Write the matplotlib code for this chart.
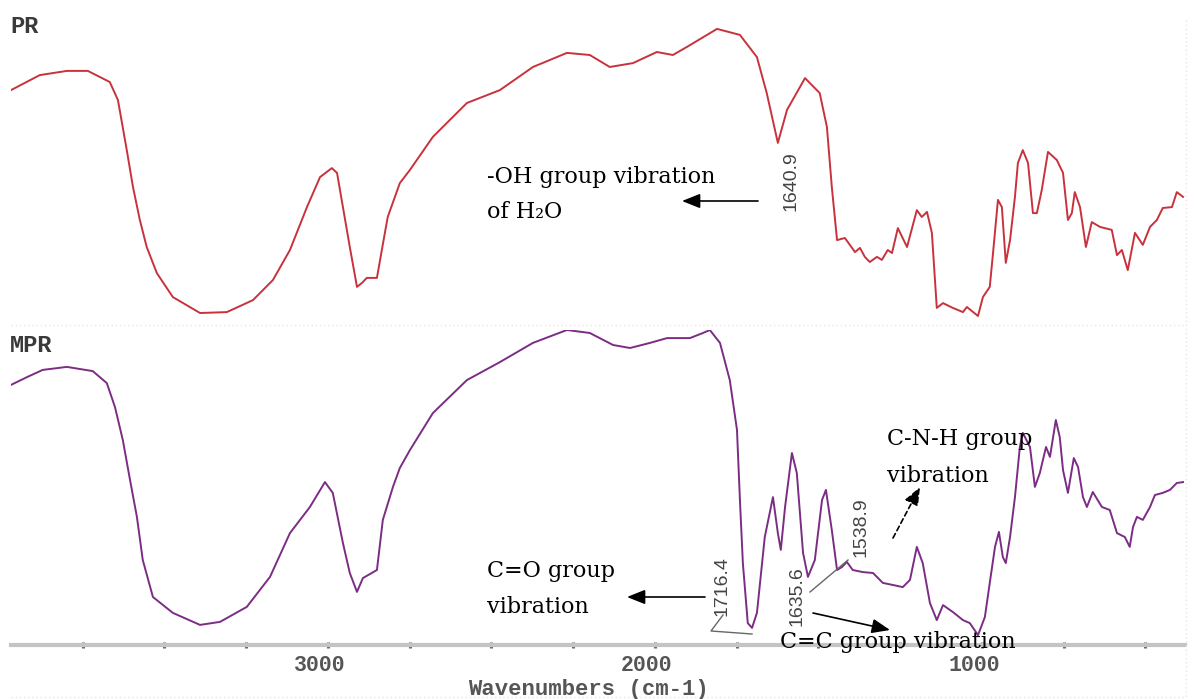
import matplotlib
matplotlib.use("Agg")
import matplotlib.pyplot as plt
import matplotlib.transforms as mtransforms
from matplotlib.ticker import FixedLocator, NullFormatter

# ---------------- data ----------------
pr_wavenumber = [3969, 3881, 3798, 3734, 3667, 3642, 3615, 3596, 3575, 3554, 3523, 3474, 3391,
                 3309, 3229, 3168, 3116, 3064, 3024, 2988, 2972, 2954, 2933, 2911, 2896, 2881,
                 2850, 2835, 2817, 2780, 2749, 2679, 2575, 2474, 2373, 2269, 2199, 2138, 2067,
                 1994, 1945, 1902, 1810, 1740, 1688, 1658, 1624, 1596, 1541, 1496, 1474, 1459,
                 1443, 1419, 1388, 1373, 1358, 1343, 1321, 1306, 1288, 1275, 1257, 1229, 1199,
                 1184, 1168, 1153, 1138, 1119, 1089, 1058, 1046, 1012, 997, 976, 966, 951, 939,
                 927, 914, 899, 890, 875, 859, 844, 832, 817, 798, 771, 752, 737, 725, 716, 700,
                 682, 664, 639, 603, 587, 572, 554, 532, 508, 486, 465, 447, 419, 404, 385]
pr_transmittance = [78.3, 83.3, 84.7, 84.7, 81.0, 75.0, 58.3, 46.0, 35.0, 26.0, 17.3, 9.3, 4.0,
                    4.3, 8.3, 15.0, 25.0, 39.3, 49.3, 52.3, 50.7, 39.3, 26.0, 12.7, 14.0, 15.7,
                    15.7, 25.0, 36.0, 47.3, 51.7, 62.7, 74.0, 78.3, 86.0, 90.7, 90.0, 86.0, 87.3,
                    91.0, 90.0, 92.7, 98.7, 96.7, 89.3, 77.3, 60.7, 71.7, 82.3, 77.3, 66.0, 46.0,
                    28.3, 29.0, 24.3, 25.7, 22.7, 21.0, 22.7, 21.7, 25.0, 24.0, 32.3, 26.0, 38.3,
                    36.0, 37.7, 30.7, 5.7, 7.3, 5.7, 4.3, 6.0, 3.0, 9.3, 12.7, 24.0, 41.7, 39.3,
                    20.7, 28.3, 42.7, 54.0, 58.3, 54.0, 37.3, 37.3, 45.0, 57.7, 55.0, 50.7, 35.0,
                    37.3, 44.3, 39.3, 26.0, 34.3, 32.7, 31.7, 23.3, 25.0, 18.3, 30.7, 26.7, 32.7,
                    35.0, 39.0, 39.3, 44.3, 42.7]

mpr_wavenumber = [3969, 3920, 3872, 3798, 3719, 3676, 3651, 3627, 3605, 3584, 3566, 3535, 3474,
                  3391, 3330, 3248, 3177, 3116, 3055, 3009, 2985, 2954, 2933, 2911, 2893, 2850,
                  2832, 2801, 2780, 2749, 2679, 2575, 2474, 2373, 2269, 2199, 2128, 2076, 2015,
                  1963, 1893, 1853, 1832, 1801, 1771, 1749, 1740, 1731, 1716, 1703, 1688, 1664,
                  1639, 1624, 1615, 1602, 1581, 1566, 1547, 1532, 1511, 1489, 1477, 1459, 1443,
                  1428, 1413, 1395, 1364, 1333, 1303, 1272, 1242, 1220, 1199, 1181, 1159, 1138,
                  1119, 1089, 1058, 1037, 1012, 991, 976, 960, 948, 936, 927, 914, 899, 884, 875,
                  853, 838, 823, 804, 792, 774, 762, 752, 737, 719, 706, 691, 679, 661, 633, 609,
                  587, 563, 548, 538, 526, 508, 486, 471, 447, 425, 404, 385]
mpr_transmittance = [86.7, 89.3, 91.7, 92.7, 91.3, 87.3, 79.3, 68.3, 55.0, 42.7, 28.3, 16.0, 10.7,
                     6.7, 7.7, 12.7, 22.7, 37.3, 46.0, 54.3, 50.7, 34.0, 24.0, 17.7, 22.3, 25.0,
                     41.7, 52.7, 59.0, 65.0, 77.3, 88.3, 94.3, 100.7, 105.0, 104.0, 100.0, 99.0,
                     100.7, 102.3, 102.3, 104.0, 105.0, 100.7, 88.3, 71.7, 48.3, 27.3, 7.3, 5.7,
                     10.7, 36.0, 49.3, 37.3, 31.7, 46.0, 64.0, 57.3, 30.7, 22.7, 28.3, 48.3, 51.7,
                     38.3, 25.0, 26.0, 27.7, 25.0, 24.3, 24.0, 20.7, 20.0, 19.3, 21.7, 32.7, 27.3,
                     14.0, 8.3, 13.3, 11.0, 8.3, 7.3, 3.3, 9.3, 20.7, 32.7, 37.7, 29.3, 27.3, 36.0,
                     49.3, 66.0, 70.7, 66.0, 52.7, 57.3, 66.0, 62.7, 75.0, 69.3, 58.3, 50.7, 62.3,
                     59.3, 49.3, 46.0, 51.0, 46.0, 45.0, 37.3, 36.0, 32.7, 39.3, 42.7, 41.7, 46.0,
                     50.0, 50.7, 51.7, 54.0, 54.3]

major_ticks = [3000, 2000, 1000]
tick_labels = ["3000", "2000", "1000"]
minor_ticks = [3750, 3500, 3250, 2750, 2500, 2250, 1750, 1500, 1250, 750, 500]
panel_names = ["PR", "MPR"]
peak_labels = ["1640.9", "1716.4", "1635.6", "1538.9"]
x_label = "Wavenumbers (cm-1)"

# ---------------- figure ----------------
W, H = 1197, 699
fig = plt.figure(figsize=(W / 100, H / 100), dpi=100)
fig.patch.set_facecolor("white")


def fx(x):
    return x / W


def fy(y):
    return 1 - y / H


XLIM = (3969, 379)
ax1 = fig.add_axes([fx(11), fy(325), (1185 - 11) / W, 325 / H])
ax2 = fig.add_axes([fx(11), fy(645), (1185 - 11) / W, 315 / H])

ax1.plot(pr_wavenumber, pr_transmittance, color="#c8323c", lw=1.4)
ax2.plot(mpr_wavenumber, mpr_transmittance, color="#7b2d84", lw=1.4)

for ax, top in ((ax1, 325 / 3), (ax2, 105)):
    ax.set_xlim(*XLIM)
    ax.set_ylim(0, top)
    ax.set_facecolor("none")
    for s in ax.spines.values():
        s.set_visible(False)
    ax.set_yticks([])

ax1.set_xticks([])

ax2.spines["bottom"].set_visible(True)
ax2.spines["bottom"].set_color("#c4c4c4")
ax2.spines["bottom"].set_linewidth(3)
ax2.xaxis.set_major_locator(FixedLocator(major_ticks))
ax2.xaxis.set_minor_locator(FixedLocator(minor_ticks))
ax2.set_xticklabels(tick_labels, family="Liberation Mono", fontsize=15.5,
                    color="#555555", fontweight="bold")
ax2.xaxis.set_minor_formatter(NullFormatter())
ax2.tick_params(axis="x", which="both", direction="inout", length=4, width=2.2,
                color="#666666", pad=5)
offset = mtransforms.ScaledTranslation(-8 / 100, 0, fig.dpi_scale_trans)
for lab in ax2.xaxis.get_majorticklabels():
    lab.set_transform(lab.get_transform() + offset)

fig.text(fx(588), fy(695), x_label, ha="center", va="baseline", family="Liberation Mono",
         fontsize=16, color="#555555", fontweight="bold")

# panel names
fig.text(fx(10), fy(33), panel_names[0], ha="left", va="baseline", family="Liberation Mono",
         fontsize=17, fontweight="bold", color="#3a3a3a")
fig.text(fx(10), fy(352), panel_names[1], ha="left", va="baseline", family="Liberation Mono",
         fontsize=17, fontweight="bold", color="#3a3a3a")

# faint dotted frame lines
fig.add_artist(plt.Line2D([fx(11), fx(1185)], [fy(325), fy(325)], color="#eee6de", lw=1,
                          ls=(0, (1, 2))))
fig.add_artist(plt.Line2D([fx(1186), fx(1186)], [fy(20), fy(699)], color="#eee6de", lw=1,
                          ls=(0, (1, 2))))
fig.add_artist(plt.Line2D([fx(11), fx(1185)], [fy(697), fy(697)], color="#eee6de", lw=1,
                          ls=(0, (1, 2))))

# peak labels (rotated)
peak_font = dict(family="Liberation Sans", fontsize=14,
                 color="#444444", rotation=90, ha="center", va="center")
fig.text(fx(791), fy(181), peak_labels[0], **peak_font)
fig.text(fx(722), fy(586), peak_labels[1], **peak_font)
fig.text(fx(797), fy(596), peak_labels[2], **peak_font)
fig.text(fx(861), fy(527), peak_labels[3], **peak_font)

# leader lines
lead = dict(color="#666666", lw=1)
fig.add_artist(plt.Line2D([fx(752), fx(711), fx(723)], [fy(634), fy(631), fy(615)], **lead))
fig.add_artist(plt.Line2D([fx(810), fx(848)], [fy(592), fy(560)], **lead))

# annotation texts
ann_font = dict(family="DejaVu Serif", fontsize=16, color="black", ha="left", va="baseline")
fig.text(fx(487), fy(183), "-OH group vibration", **ann_font)
fig.text(fx(487), fy(218), "of H\u2082O", **ann_font)
fig.text(fx(487), fy(577), "C=O group", **ann_font)
fig.text(fx(487), fy(613), "vibration", **ann_font)
fig.text(fx(887), fy(445), "C-N-H group", **ann_font)
fig.text(fx(887), fy(482), "vibration", **ann_font)
fig.text(fx(780), fy(648), "C=C group vibration", zorder=10, **ann_font)


# arrows
def arrow(x0, y0, x1, y1, ls="-"):
    fig.add_artist(matplotlib.patches.FancyArrowPatch(
        (fx(x0), fy(y0)), (fx(x1), fy(y1)), transform=fig.transFigure,
        arrowstyle="-|>,head_length=0.55,head_width=0.22", mutation_scale=20,
        color="black", lw=1.2, linestyle=ls, shrinkA=0, shrinkB=0))


arrow(758, 201, 682, 201)
arrow(705, 597, 627, 597)
arrow(893, 538, 920, 487, ls=(0, (3, 2)))
arrow(813, 613, 890, 630)

fig.savefig("out.png", dpi=100, facecolor="white")
